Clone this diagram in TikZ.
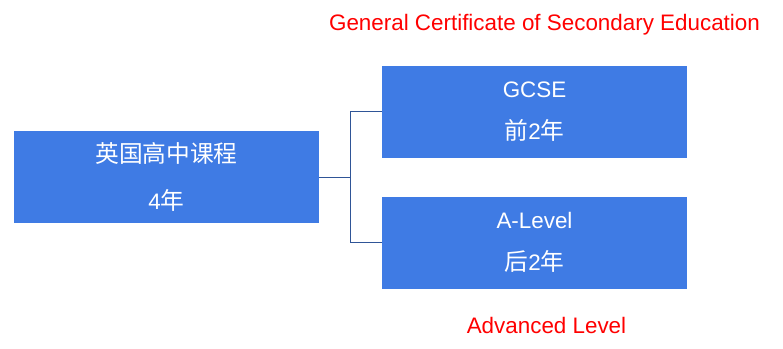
\documentclass[tikz,border=0pt]{standalone}
\usepackage{fontspec}
\setmainfont{Liberation Sans}
\newfontfamily\cjk[Scale=1.06]{Noto Sans CJK SC}
\usepackage{xcolor}
\usetikzlibrary{positioning}
\definecolor{boxblue}{HTML}{3F7BE4}
\definecolor{linkblue}{HTML}{2F5597}
\definecolor{notered}{HTML}{FF0000}
\tikzset{
  stagebox/.style={fill=boxblue,draw=none,align=center,text=white,
    minimum width=305pt,minimum height=92pt,inner sep=0pt,
    font=\fontsize{22.4}{22.4}\selectfont},
  link/.style={draw=linkblue,line width=1pt},
  note/.style={text=notered,inner sep=0pt,font=\fontsize{22.4}{22.4}\selectfont}
}

\begin{document}
\begin{tikzpicture}[x=1pt,y=-1pt]
  \useasboundingbox (0,0) rectangle (783,348);
  \node[stagebox] (course) at (166.5,177) {{\cjk 英国高中课程}\\[25pt]4{\cjk 年}};
  \node[stagebox] (gcse) at (534.5,111.5) {GCSE\\[20pt]{\cjk 前}2{\cjk 年}};
  \node[stagebox] (alevel) at (534.5,242.5) {A-Level\\[20pt]{\cjk 后}2{\cjk 年}};
  \node[note] (gcsefull) at (544.5,25) {General Certificate of Secondary Education};
  \node[note] (alevelfull) at (546.5,325) {Advanced Level};
  \coordinate (fork) at (350,177);
  \draw[link] (course.east) -- (fork);
  \draw[link] (gcse.west) -| (fork);
  \draw[link] (alevel.west) -| (fork);
\end{tikzpicture}
\end{document}
